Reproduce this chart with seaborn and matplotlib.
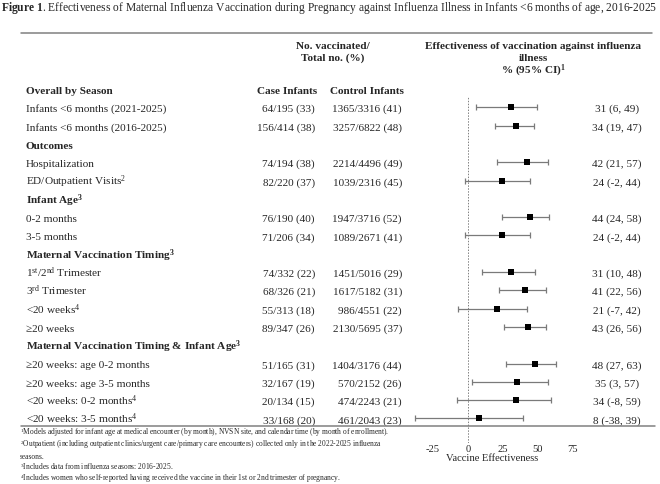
import numpy as np
import pandas as pd
import matplotlib.pyplot as plt
import matplotlib.transforms as mtransforms
from matplotlib.lines import Line2D
import seaborn as sns

# rows of the table (row 0 = "Overall by Season" header)
row_labels = [
    'Overall by Season',
    'Infants <6 months (2021-2025)',
    'Infants <6 months (2016-2025)',
    'Outcomes',
    'Hospitalization',
    'ED/Outpatient Visits$^{2}$',
    r'Infant Age$^{\mathbf{3}}$',
    '0-2 months',
    '3-5 months',
    r'Maternal Vaccination Timing$^{\mathbf{3}}$',
    r'1$^{\mathrm{st}}$/2$^{\mathrm{nd}}$ Trimester',
    r'3$^{\mathrm{rd}}$ Trimester',
    '<20 weeks$^{4}$',
    '≥20 weeks',
    r'Maternal Vaccination Timing & Infant Age$^{\mathbf{3}}$',
    '≥20 weeks: age 0-2 months',
    '≥20 weeks: age 3-5 months',
    '<20 weeks: 0-2 months$^{4}$',
    '<20 weeks: 3-5 months$^{4}$',
]
header_rows = [0, 3, 6, 9, 14]

data_rows = [1, 2, 4, 5, 7, 8, 10, 11, 12, 13, 15, 16, 17, 18]
case_vacc = [64, 156, 74, 82, 76, 71, 74, 68, 55, 89, 51, 32, 20, 33]
case_total = [195, 414, 194, 220, 190, 206, 332, 326, 313, 347, 165, 167, 134, 168]
case_pct = [33, 38, 38, 37, 40, 34, 22, 21, 18, 26, 31, 19, 15, 20]
ctrl_vacc = [1365, 3257, 2214, 1039, 1947, 1089, 1451, 1617, 986, 2130, 1404, 570, 474, 461]
ctrl_total = [3316, 6822, 4496, 2316, 3716, 2671, 5016, 5182, 4551, 5695, 3176, 2152, 2243, 2043]
ctrl_pct = [41, 48, 49, 45, 52, 41, 29, 31, 22, 37, 44, 26, 21, 23]
ve = [31, 34, 42, 24, 44, 24, 31, 41, 21, 43, 48, 35, 34, 8]
ve_lo = [6, 19, 21, -2, 24, -2, 10, 22, -7, 26, 27, 3, -8, -38]
ve_hi = [49, 47, 57, 44, 58, 44, 48, 56, 42, 56, 63, 57, 59, 39]

x_ticks = [-25, 0, 25, 50, 75]

footnotes = [
    '$^{1}$Models adjusted for infant age at medical encounter (by month), NVSN site, and calendar time (by month of enrollment).',
    '$^{2}$Outpatient (including outpatient clinics/urgent care/primary care encounters) collected only in the 2022-2025 influenza',
    'seasons.',
    '$^{3}$Includes data from influenza seasons: 2016-2025.',
    '$^{4}$Includes women who self-reported having received the vaccine in their 1st or 2nd trimester of pregnancy.',
]

W, H = 660, 485


def fx(px):
    return px / W


def fy(py):
    return 1 - py / H


def main():
    sns.set_style('white')
    plt.rcParams['font.family'] = ['Liberation Serif', 'DejaVu Serif']
    plt.rcParams['mathtext.fontset'] = 'custom'
    plt.rcParams['mathtext.rm'] = 'Liberation Serif'
    plt.rcParams['mathtext.it'] = 'Liberation Serif:italic'
    plt.rcParams['mathtext.bf'] = 'Liberation Serif:bold'

    df = pd.DataFrame({'row': data_rows, 've': ve, 'lo': ve_lo, 'hi': ve_hi})

    fig = plt.figure(figsize=(6.6, 4.85), dpi=100)
    ax = fig.add_axes([fx(405), fy(444), 175 / W, (444 - 97) / H])
    ax.set_facecolor('none')

    # forest plot
    ax.axvline(0, color='#808080', lw=0.7, ls=(0, (1.5, 1.5)), zorder=1)
    ax.errorbar(df['ve'], df['row'], xerr=[df['ve'] - df['lo'], df['hi'] - df['ve']],
                fmt='none', ecolor='#7a7a7a', elinewidth=0.9, capsize=2.5, capthick=0.9, zorder=2)
    sns.scatterplot(data=df, x='ve', y='row', marker='s', color='black', s=22,
                    linewidth=0, legend=False, ax=ax, zorder=3)
    ax.set_xlim(-45, 80)
    ax.set_ylim(19.34, 0.383)
    ax.set_xticks(x_ticks)
    ax.set_xticklabels([str(t) for t in x_ticks])
    ax.set_yticks([])
    ax.tick_params(axis='x', length=0, pad=1, labelsize=7.6)
    ax.set_xlabel('Vaccine Effectiveness', fontsize=7.6, labelpad=0)
    ax.set_ylabel('')
    sns.despine(ax=ax, left=True, bottom=True)

    trans = mtransforms.blended_transform_factory(fig.transFigure, ax.transData)
    fs = 8.1
    off = 0.21  # baseline offset below row centre, in row units

    for i, lab in enumerate(row_labels):
        weight = 'bold' if i in header_rows else 'normal'
        ax.text(fx(26), i + off, lab, transform=trans, ha='left', va='baseline',
                fontsize=fs, fontweight=weight)

    for k, r in enumerate(data_rows):
        ax.text(fx(315), r + off, f'{case_vacc[k]}/{case_total[k]} ({case_pct[k]})', transform=trans,
                ha='right', va='baseline', fontsize=fs)
        ax.text(fx(402), r + off, f'{ctrl_vacc[k]}/{ctrl_total[k]} ({ctrl_pct[k]})', transform=trans,
                ha='right', va='baseline', fontsize=fs)
        ax.text(fx(617), r + off, f'{ve[k]} ({ve_lo[k]}, {ve_hi[k]})', transform=trans,
                ha='center', va='baseline', fontsize=fs)

    ax.text(fx(287), off, 'Case Infants', transform=trans, ha='center', va='baseline',
            fontsize=fs, fontweight='bold')
    ax.text(fx(367), off, 'Control Infants', transform=trans, ha='center', va='baseline',
            fontsize=fs, fontweight='bold')

    # column headers (baselines)
    fig.text(fx(333), fy(49), 'No. vaccinated/', ha='center', va='baseline', fontsize=fs, fontweight='bold')
    fig.text(fx(333), fy(61), 'Total no. (%)', ha='center', va='baseline', fontsize=fs, fontweight='bold')
    fig.text(fx(533), fy(49), 'Effectiveness of vaccination against influenza', ha='center', va='baseline',
             fontsize=fs, fontweight='bold')
    fig.text(fx(533), fy(61), 'illness', ha='center', va='baseline', fontsize=fs, fontweight='bold')
    fig.text(fx(533), fy(74), r'% (95% CI)$^{\mathbf{1}}$', ha='center', va='baseline',
             fontsize=fs, fontweight='bold')

    # title
    fig.text(fx(1), fy(11), r'$\mathbf{Figure\ 1}$. Effectiveness of Maternal Influenza Vaccination during '
             'Pregnancy against Influenza Illness in Infants <6 months of age, 2016-2025',
             ha='left', va='baseline', fontsize=8.3)

    # rules
    fig.add_artist(Line2D([fx(21), fx(652)], [fy(34), fy(34)], transform=fig.transFigure,
                          color='#808080', lw=1.1))
    fig.add_artist(Line2D([fx(21), fx(655)], [fy(427), fy(427)], transform=fig.transFigure,
                          color='#808080', lw=1.1))

    # footnotes
    for txt, py in zip(footnotes, [435, 447, 459, 470, 481]):
        fig.text(fx(20), fy(py), txt, ha='left', va='baseline', fontsize=5.45)

    fig.savefig('out.png', dpi=100, facecolor='white')


if __name__ == '__main__':
    main()
